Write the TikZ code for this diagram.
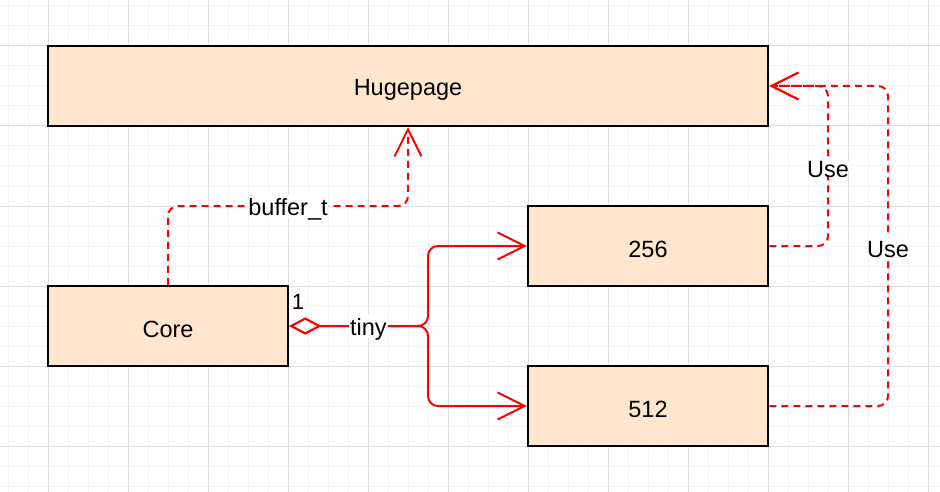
\documentclass[tikz,border=0pt]{standalone}
\usepackage{fontspec}
\setmainfont{Liberation Sans}
\usetikzlibrary{arrows.meta}
\definecolor{boxfill}{HTML}{FFE6CC}
\definecolor{edgered}{HTML}{FF0000}
\definecolor{gridminor}{HTML}{F4F4F4}
\definecolor{gridmajor}{HTML}{DEDEDE}
\newcommand{\lowtext}[1]{\raisebox{-3.5pt}[\height][\depth]{#1}}
\tikzset{
  classbox/.style={draw=black, line width=2.5pt, fill=boxfill, minimum width=#1, minimum height=80pt, inner sep=0pt, font=\fontsize{23.5}{28}\selectfont},
  classbox/.default=240pt,
  depedge/.style={draw=edgered, line width=2pt, dash pattern=on 7pt off 5pt, rounded corners=10pt, -{Straight Barb[length=27pt,width=27pt,line width=2pt]}},
  assocedge/.style={draw=edgered, line width=2pt, rounded corners=10pt, {Diamond[open,length=32pt,width=17pt,line width=2pt,fill=white]}-{Straight Barb[length=27pt,width=27pt,line width=2pt]}},
  edgelabel/.style={fill=white, inner sep=1pt, text=black, font=\fontsize{23.5}{28}\selectfont}
}
\begin{document}
\begin{tikzpicture}[x=1pt,y=-1pt]
\useasboundingbox (0,0) rectangle (940,492);
\fill[white] (0,0) rectangle (940,492);
% grid
\foreach \gx in {8,28,...,928} \draw[gridminor, line width=1pt] (\gx,0) -- (\gx,492);
\foreach \gy in {6,26,...,486} \draw[gridminor, line width=1pt] (0,\gy) -- (940,\gy);
\foreach \gx in {48,128,...,928} \draw[gridmajor, line width=1pt] (\gx,0) -- (\gx,492);
\foreach \gy in {46,126,...,446} \draw[gridmajor, line width=1pt] (0,\gy) -- (940,\gy);
% boxes
\node[classbox=720pt] (hp) at (408,86) {\lowtext{Hugepage}};
\node[classbox] (core) at (168,326) {\lowtext{Core}};
\node[classbox] (n256) at (648,246) {\lowtext{256}};
\node[classbox] (n512) at (648,406) {\lowtext{512}};
% coordinates
\coordinate (b1) at (168,206);
\coordinate (b2) at (408,206);
\coordinate (j) at (428,326);
\coordinate (u1a) at (828,246);
\coordinate (u1b) at (828,86);
\coordinate (u2a) at (888,406);
\coordinate (u2b) at (888,86);
% connectors
\draw[depedge] (core.north) -- (b1) -- node[edgelabel]{\lowtext{buffer\_t}} (b2) -- (hp.south);
\draw[assocedge] (core.east) -- (j) |- (n256.west);
\draw[assocedge] (core.east) -- node[edgelabel, pos=0.57]{\lowtext{tiny}} (j) |- (n512.west);
\node[font=\fontsize{22}{26}\selectfont] (one) at (298,302) {1};
\draw[depedge] (n256.east) -- (u1a) -- node[edgelabel]{\lowtext{Use}} (u1b) -- (hp.east);
\draw[depedge] (n512.east) -- (u2a) -- node[edgelabel]{\lowtext{Use}} (u2b) -- (hp.east);
\end{tikzpicture}
\end{document}
